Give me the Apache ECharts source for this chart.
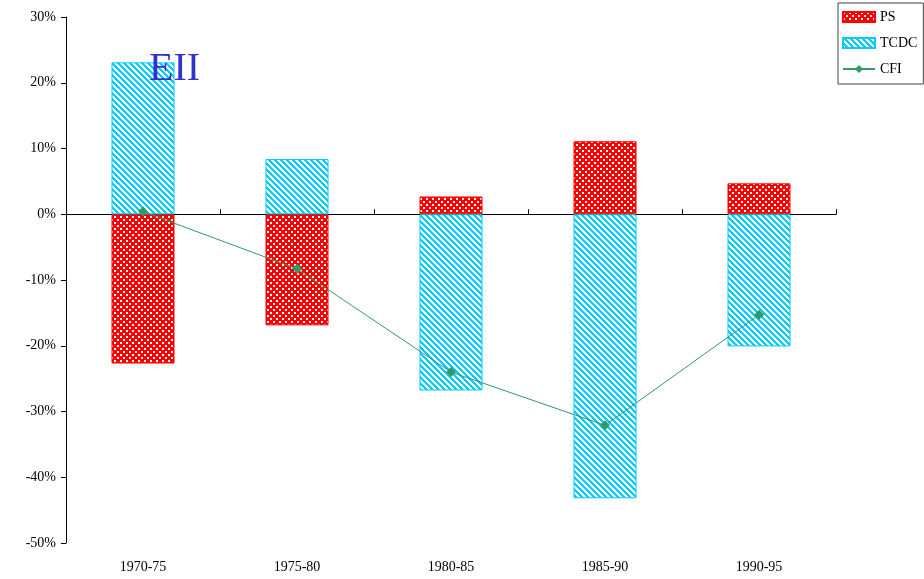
<!DOCTYPE html>
<html>
<head>
<meta charset="utf-8">
<script src="https://cdn.jsdelivr.net/npm/echarts@6/dist/echarts.min.js"></script>
<style>
  html, body { margin: 0; padding: 0; background: #fff; }
  #chart { width: 924px; height: 579px; }
</style>
</head>
<body>
<div id="chart"></div>
<script>
// Periods and decomposition components (percent)
const periods = ['1970-75', '1975-80', '1980-85', '1985-90', '1990-95'];
const psValues = [-22.7, -16.9, 2.7, 11.1, 4.7];
const tcdcValues = [23.1, 8.4, -26.8, -43.2, -20.1];
const cfiValues = [0.4, -8.3, -24.0, -32.1, -15.3];
const yTicks = [-50, -40, -30, -20, -10, 0, 10, 20, 30];

// Small checkerboard fill (red with white squares)
function checkerPattern() {
  const c = document.createElement('canvas');
  c.width = 6; c.height = 6;
  const g = c.getContext('2d');
  g.fillStyle = '#ff0000';
  g.fillRect(0, 0, 6, 6);
  g.fillStyle = '#ffffff';
  g.fillRect(0, 0, 2, 2);
  g.fillRect(3, 3, 2, 2);
  return c;
}

// Wide downward diagonal stripes (cyan / white)
function stripePattern() {
  const n = 6;
  const c = document.createElement('canvas');
  c.width = n; c.height = n;
  const g = c.getContext('2d');
  g.fillStyle = '#ffffff';
  g.fillRect(0, 0, n, n);
  g.fillStyle = '#00ccff';
  for (let y = 0; y < n; y++) {
    for (let x = 0; x < n; x++) {
      if ((((x - y) % n) + n) % n < 3) g.fillRect(x, y, 1, 1);
    }
  }
  return c;
}

const serif = '"Liberation Serif", "DejaVu Serif", serif';
const chart = echarts.init(document.getElementById('chart'), null, { renderer: 'canvas' });

chart.setOption({
  animation: false,
  backgroundColor: '#ffffff',
  title: {
    text: 'EII',
    left: 144,
    top: 44,
    textStyle: { fontFamily: serif, fontSize: 40, fontWeight: 'normal', color: '#3333cc' }
  },
  legend: {
    orient: 'vertical',
    left: 838,
    top: 3,
    width: 84,
    padding: [7, 6, 8, 4],
    itemGap: 12,
    itemWidth: 32,
    itemHeight: 10,
    backgroundColor: '#ffffff',
    borderColor: '#444444',
    borderWidth: 1,
    textStyle: { fontFamily: serif, fontSize: 14, color: '#000' },
    data: [
      { name: 'PS', icon: 'rect' },
      { name: 'TCDC', icon: 'rect' },
      { name: 'CFI' }
    ]
  },
  grid: { left: 66, right: 88, top: 17, bottom: 36, containLabel: false },
  xAxis: [
    {
      type: 'category',
      data: periods,
      position: 'bottom',
      axisLine: { show: false, onZero: false },
      axisTick: { show: false },
      axisLabel: { fontFamily: serif, fontSize: 14, color: '#000', margin: 17 },
      splitLine: { show: false }
    },
    {
      type: 'category',
      data: periods,
      position: 'bottom',
      axisLine: { show: true, onZero: true, lineStyle: { color: '#000', width: 1 } },
      axisTick: { show: true, inside: true, length: 5, lineStyle: { color: '#000' } },
      axisLabel: { show: false },
      splitLine: { show: false }
    }
  ],
  yAxis: {
    type: 'value',
    min: -50,
    max: 30,
    interval: 10,
    axisLine: { show: true, lineStyle: { color: '#000', width: 1 } },
    axisTick: { show: true, length: 5, lineStyle: { color: '#000' } },
    splitLine: { show: false },
    axisLabel: {
      fontFamily: serif, fontSize: 14, color: '#000', margin: 10,
      formatter: v => yTicks.includes(v) ? v + '%' : ''
    }
  },
  series: [
    {
      name: 'PS',
      type: 'bar',
      xAxisIndex: 0,
      data: psValues,
      barWidth: 63,
      barGap: '-100%',
      itemStyle: {
        color: { image: checkerPattern(), repeat: 'repeat' },
        borderColor: '#ff0000',
        borderWidth: 1
      }
    },
    {
      name: 'TCDC',
      type: 'bar',
      xAxisIndex: 0,
      data: tcdcValues,
      barWidth: 63,
      barGap: '-100%',
      itemStyle: {
        color: { image: stripePattern(), repeat: 'repeat' },
        borderColor: '#00ccff',
        borderWidth: 1
      }
    },
    {
      name: 'CFI',
      type: 'line',
      xAxisIndex: 0,
      data: cfiValues,
      symbol: 'diamond',
      symbolSize: 10,
      z: 5,
      lineStyle: { color: '#339966', width: 1 },
      itemStyle: { color: '#339966' }
    }
  ]
});
</script>
</body>
</html>
